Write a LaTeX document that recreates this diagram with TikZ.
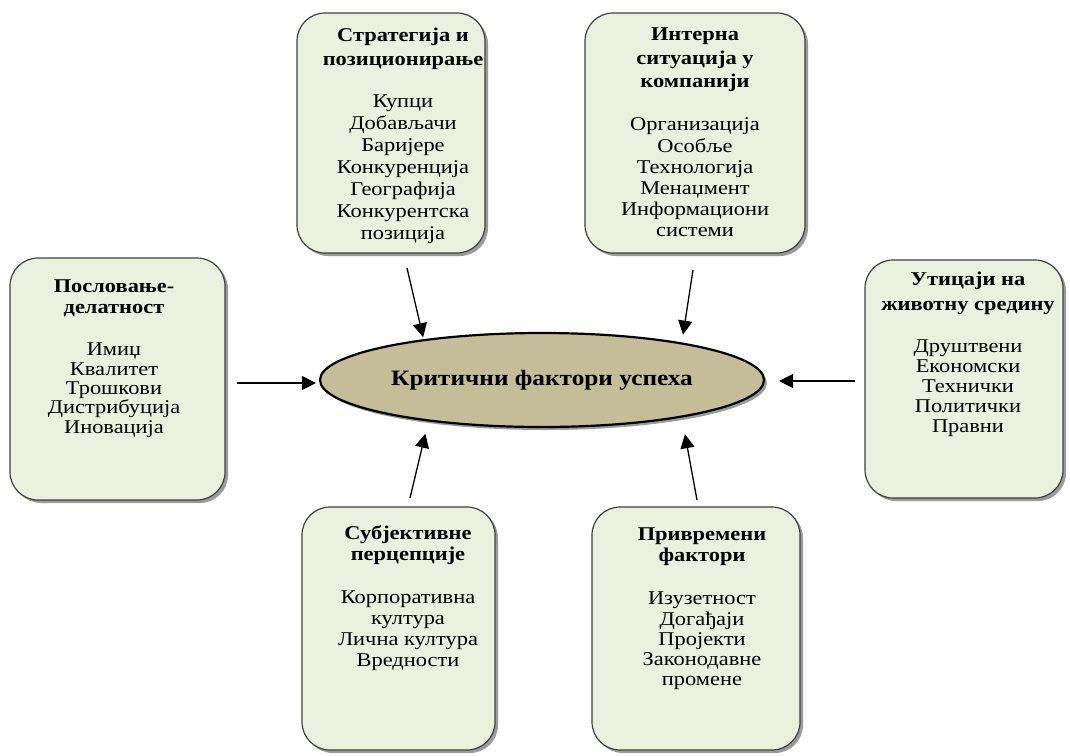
\documentclass[tikz,border=0pt]{standalone}
\usepackage{fontspec}
\setmainfont[FakeStretch=1.15]{Liberation Serif}
\usetikzlibrary{shapes.geometric,shadows,arrows.meta}
\definecolor{boxgreen}{HTML}{EBF1DE}
\definecolor{ellfill}{HTML}{C4BD97}
\definecolor{boxline}{HTML}{3F3F3F}

\begin{document}
\begin{tikzpicture}[x=1pt,y=-1pt,
  factorbox/.style={draw=boxline, line width=1.2pt, fill=boxgreen,
    rounded corners=28pt, inner sep=0pt,
    drop shadow={shadow xshift=3pt,shadow yshift=-3pt,fill=black!60,opacity=0.65}},
  boxtext/.style={align=center, anchor=north, inner sep=0pt},
  arr/.style={-{Triangle[length=14pt,width=14pt]}, line width=1.3pt},
]
\fill[white] (0,0) rectangle (1070,755);
\useasboundingbox (0,0) rectangle (1070,755);

% central ellipse
\node[ellipse, draw=black, line width=2.2pt, fill=ellfill, minimum width=444pt,
  minimum height=94pt, inner sep=0pt,
  drop shadow={shadow xshift=3pt,shadow yshift=-3pt,fill=black!60,opacity=0.65},
  font=\fontsize{22}{26}\selectfont\bfseries] (ell) at (542,380) {Критични фактори успеха};

% factor boxes
\node[factorbox, minimum width=188pt, minimum height=240pt] (strat) at (391,133) {};
\node[boxtext, font=\fontsize{19.5}{22}\selectfont] (strattxt) at (403,28)
  {\textbf{Стратегија и}\\[2pt]\textbf{позиционирање}\\[20pt]Купци\\Добављачи\\Баријере\\Конкуренција\\Географија\\Конкурентска\\позиција};

\node[factorbox, minimum width=220pt, minimum height=240pt] (intern) at (695,133) {};
\node[boxtext, font=\fontsize{19.5}{21.2}\selectfont] (interntxt) at (695,28)
  {\textbf{Интерна}\\[2.3pt]\textbf{ситуација у}\\[2.3pt]\textbf{компанији}\\[21.8pt]Организација\\Особље\\Технологија\\Менаџмент\\Информациони\\системи};

\node[factorbox, minimum width=215pt, minimum height=242pt] (posl) at (117.5,379) {};
\node[boxtext, font=\fontsize{19.5}{19.3}\selectfont] (posltxt) at (114,280)
  {\textbf{Пословање-}\\[1.7pt]\textbf{делатност}\\[22.7pt]Имиџ\\Квалитет\\Трошкови\\Дистрибуција\\Иновација};

\node[factorbox, minimum width=198pt, minimum height=238pt] (utic) at (964,379) {};
\node[boxtext, font=\fontsize{19.5}{20}\selectfont] (utictxt) at (968,272)
  {\textbf{Утицаји на}\\[5pt]\textbf{животну средину}\\[22pt]Друштвени\\Економски\\Технички\\Политички\\Правни};

\node[factorbox, minimum width=193pt, minimum height=243pt] (subj) at (398.5,628.5) {};
\node[boxtext, font=\fontsize{19.5}{21}\selectfont] (subjtxt) at (408,525.5)
  {\textbf{Субјективне}\\\textbf{перцепције}\\[22pt]Корпоративна\\култура\\Лична култура\\Вредности};

\node[factorbox, minimum width=208pt, minimum height=243pt] (privr) at (696,628.5) {};
\node[boxtext, font=\fontsize{19.5}{20.3}\selectfont] (privrtxt) at (702,527.5)
  {\textbf{Привремени}\\[0.7pt]\textbf{фактори}\\[23pt]Изузетност\\Догађаји\\Пројекти\\Законодавне\\промене};

% arrow tails, just clear of each box
\coordinate (stratT) at (407,268);
\coordinate (internT) at (693,270);
\coordinate (poslT) at (237,383);
\coordinate (uticT) at (855,381);
\coordinate (subjT) at (410,498);
\coordinate (privrT) at (697,500);

% connectors into the ellipse
\draw[arr, shorten >=2pt] (stratT) -- (ell.161);
\draw[arr, shorten >=8pt] (internT) -- (ell.15.1);
\draw[arr, shorten >=3pt] (poslT) -- ([yshift=-3pt]ell.west);
\draw[arr, shorten >=14pt] (uticT) -- ([yshift=-1pt]ell.east);
\draw[arr, shorten >=12.7pt] (subjT) -- (ell.200.1);
\draw[arr, shorten >=17pt] (privrT) -- (ell.345.2);
\end{tikzpicture}
\end{document}
